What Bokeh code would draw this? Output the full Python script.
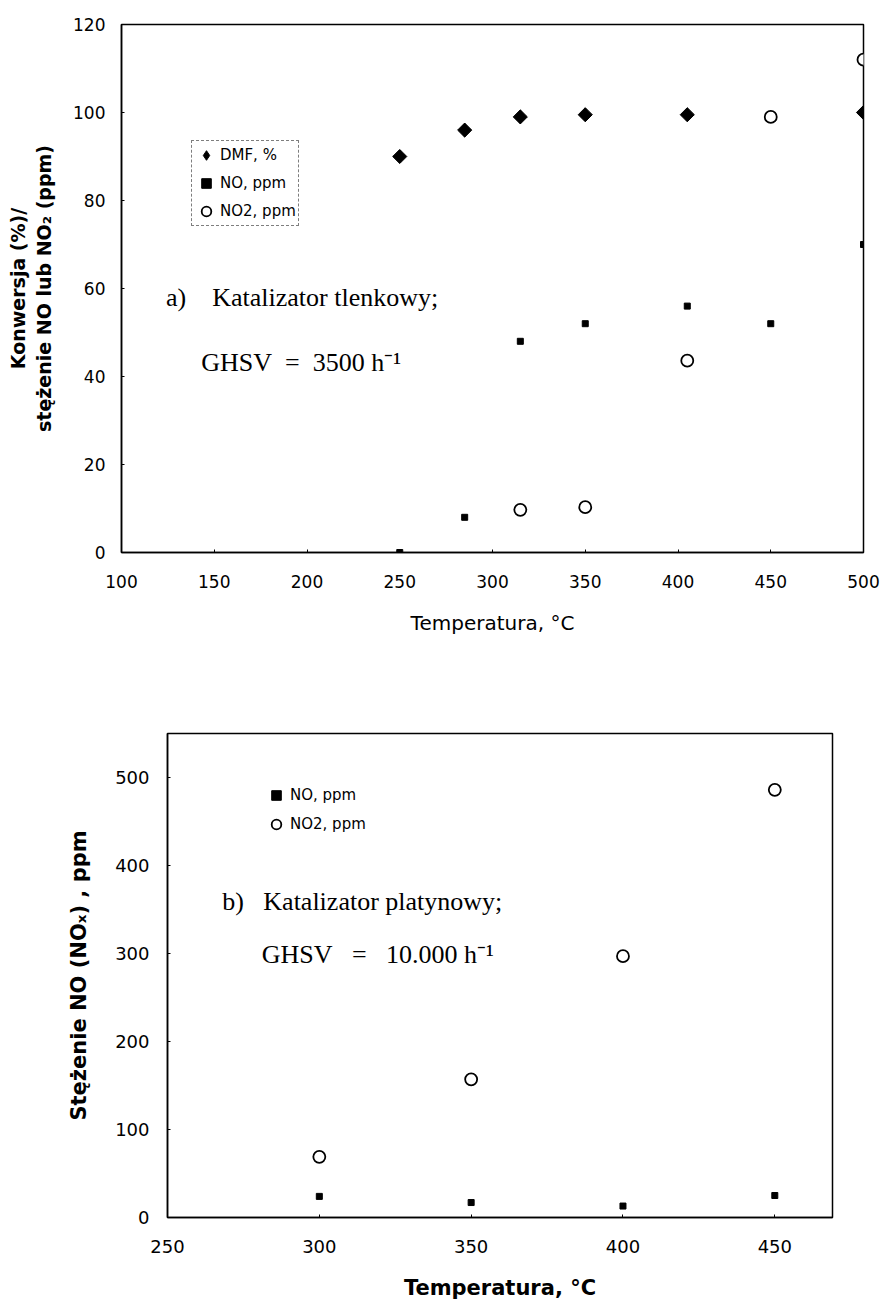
from bokeh.plotting import figure
from bokeh.models import Legend, LegendItem, Label, Range1d, FixedTicker
from bokeh.embed import file_html
from bokeh.resources import INLINE

# --- Data: panel a) (oxide catalyst, GHSV 3500 1/h)
a_dmf_x = [250, 285, 315, 350, 405, 500]
a_dmf_y = [90, 96, 99, 99.5, 99.5, 100]
a_no_x = [250, 285, 315, 350, 405, 450, 500]
a_no_y = [0, 8, 48, 52, 56, 52, 70]
a_no2_x = [315, 350, 405, 450, 500]
a_no2_y = [9.7, 10.3, 43.6, 99, 112]
a_xticks = [100, 150, 200, 250, 300, 350, 400, 450, 500]
a_yticks = [0, 20, 40, 60, 80, 100, 120]

# --- Data: panel b) (platinum catalyst, GHSV 10.000 1/h)
b_x = [300, 350, 400, 450]
b_no_y = [24, 17, 13, 25]
b_no2_y = [69, 157, 297, 486]
b_xticks = [250, 300, 350, 400, 450]
b_yticks = [0, 100, 200, 300, 400, 500]

SANS = "DejaVu Sans"
SERIF = "Liberation Serif"
NB = "\u00a0"


def style(p, xticks, yticks, xstand, ystand, tick_size):
    p.outline_line_color = "black"
    p.outline_line_width = 1.5
    p.xgrid.visible = False
    p.ygrid.visible = False
    p.background_fill_color = "white"
    p.border_fill_color = "white"
    for ax in (p.xaxis[0], p.yaxis[0]):
        ax.axis_line_color = "black"
        ax.axis_line_width = 1.5
        ax.major_tick_in = 3
        ax.major_tick_out = 0
        ax.minor_tick_in = 0
        ax.minor_tick_out = 0
        ax.major_label_text_font = SANS
        ax.major_label_text_font_size = tick_size
        ax.major_label_text_color = "black"
        ax.axis_label_text_font = SANS
        ax.axis_label_text_font_style = "bold"
        ax.axis_label_text_color = "black"
    p.xaxis[0].ticker = FixedTicker(ticks=xticks)
    p.yaxis[0].ticker = FixedTicker(ticks=yticks)
    p.xaxis[0].major_label_standoff = xstand
    p.yaxis[0].major_label_standoff = ystand


# ---------------- Panel a ----------------
p1 = figure(width=885, height=660, output_backend="svg", toolbar_location=None,
            x_range=Range1d(100, 500), y_range=Range1d(0, 120),
            min_border_left=121, min_border_right=22, min_border_top=24,
            min_border_bottom=108)
style(p1, a_xticks, a_yticks, 22, 16, "17px")
p1.xaxis[0].axis_label = "Temperatura, °C"
p1.xaxis[0].axis_label_text_font_size = "20px"
p1.xaxis[0].axis_label_text_font_style = "normal"
p1.xaxis[0].axis_label_standoff = 20
p1.yaxis[0].axis_label = "Konwersja (%)/\nstężenie NO lub NO₂ (ppm)"
p1.yaxis[0].axis_label_text_font_size = "19px"
p1.yaxis[0].axis_label_standoff = 15

# DMF: diamond glyph (used for the legend) under a square turned by 45 degrees
r_dmf = p1.scatter(a_dmf_x, a_dmf_y, marker="diamond", size=13,
                   fill_color="black", line_color="black")
p1.scatter(a_dmf_x, a_dmf_y, marker="square", angle=0.785398, size=10,
           fill_color="black", line_color="black")
r_no = p1.scatter(a_no_x, a_no_y, marker="square", size=6,
                  fill_color="black", line_color="black")
r_no2 = p1.scatter(a_no2_x, a_no2_y, marker="circle", size=12,
                   fill_color="white", line_color="black", line_width=1.8)

leg1 = Legend(items=[LegendItem(label="DMF, %", renderers=[r_dmf]),
                     LegendItem(label="NO, ppm", renderers=[r_no]),
                     LegendItem(label="NO2, ppm", renderers=[r_no2])],
              location=(70, 326), label_text_font=SANS, label_text_font_size="15px",
              label_text_color="black", label_height=18,
              label_standoff=2, glyph_width=24, glyph_height=24, spacing=4,
              padding=2, margin=0, border_line_color="black",
              border_line_dash="4 2", border_line_width=1,
              background_fill_alpha=1.0)
p1.add_layout(leg1, "center")

p1.add_layout(Label(x=124, y=58, text=f"a){NB}{NB}{NB}{NB}Katalizator tlenkowy;",
                    text_font=SERIF, text_font_size="26px",
                    text_baseline="middle", text_color="black"))
p1.add_layout(Label(x=143, y=43.2, text=f"GHSV{NB}{NB}={NB}{NB}3500 h⁻¹",
                    text_font=SERIF, text_font_size="26px",
                    text_baseline="middle", text_color="black"))

# ---------------- Panel b ----------------
p2 = figure(width=885, height=647, output_backend="svg", toolbar_location=None,
            x_range=Range1d(250, 469), y_range=Range1d(0, 550),
            min_border_left=167, min_border_right=53, min_border_top=73,
            min_border_bottom=90)
style(p2, b_xticks, b_yticks, 22, 18, "18px")
p2.xaxis[0].axis_label = "Temperatura, °C"
p2.xaxis[0].axis_label_text_font_size = "21px"
p2.xaxis[0].axis_label_standoff = 20
p2.yaxis[0].axis_label = "Stężenie NO (NOₓ) , ppm"
p2.yaxis[0].axis_label_text_font_size = "21px"
p2.yaxis[0].axis_label_standoff = 21

r2_no = p2.scatter(b_x, b_no_y, marker="square", size=6,
                   fill_color="black", line_color="black")
r2_no2 = p2.scatter(b_x, b_no2_y, marker="circle", size=12,
                    fill_color="white", line_color="black", line_width=1.8)

leg2 = Legend(items=[LegendItem(label="NO, ppm", renderers=[r2_no]),
                     LegendItem(label="NO2, ppm", renderers=[r2_no2])],
              location=(97, 381), label_text_font=SANS, label_text_font_size="15px",
              label_text_color="black", label_height=18,
              label_standoff=2, glyph_width=24, glyph_height=24, spacing=5,
              padding=2, margin=0, border_line_color=None,
              background_fill_alpha=0.0)
p2.add_layout(leg2, "center")

p2.add_layout(Label(x=268, y=359, text=f"b){NB}{NB}{NB}Katalizator platynowy;",
                    text_font=SERIF, text_font_size="26px",
                    text_baseline="middle", text_color="black"))
p2.add_layout(Label(x=281, y=299, text=f"GHSV{NB}{NB}{NB}={NB}{NB}{NB}10.000 h⁻¹",
                    text_font=SERIF, text_font_size="26px",
                    text_baseline="middle", text_color="black"))

open("out.html", "w").write(file_html([p1, p2], INLINE))
